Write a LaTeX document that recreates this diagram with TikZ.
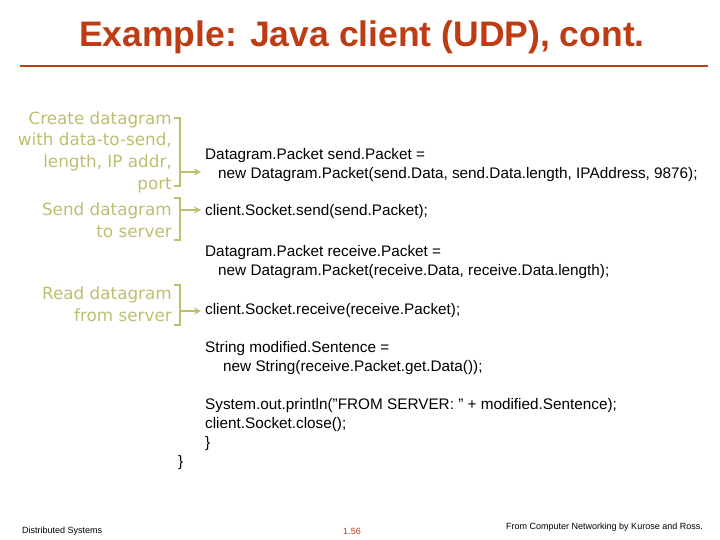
\documentclass[tikz,border=0pt]{standalone}
\usepackage{fontspec}
\setmainfont{Liberation Sans}
\newfontfamily\annfont{DejaVu Sans}
\usetikzlibrary{arrows.meta}
\definecolor{titlered}{RGB}{190,60,20}
\definecolor{olive}{RGB}{190,190,110}
\begin{document}
\begin{tikzpicture}[x=1pt,y=-1pt,
  code/.style={anchor=west,inner sep=0pt,font=\fontsize{15.3}{19}\selectfont,align=left},
  ann/.style={anchor=east,inner sep=0pt,font=\annfont\fontsize{16.8}{21.7}\selectfont,text=olive,align=right},
  brk/.style={draw=olive,line width=1.3pt},
  arr/.style={draw=olive,line width=1.3pt,-{Stealth[length=7pt,width=7pt]},shorten >=4pt},
  foot/.style={inner sep=0pt,font=\fontsize{9}{10}\selectfont}]
\useasboundingbox (0,0) rectangle (720,540);
\node[font=\bfseries\fontsize{35.5}{40}\selectfont,text=titlered] (title) at (362,37) {Example: Java client (UDP), cont.};
\draw[titlered,line width=2.8pt] (20,66) -- (708,66);
% annotations
\node[ann] (a1) at (172,152) {Create datagram\\with data-to-send,\\length, IP addr,\\port};
\node[ann] (a2) at (172,220) {Send datagram\\to server};
\node[ann] (a3) at (172,304) {Read datagram\\from server};
\draw[brk] (174,118) -- (180,118) -- (180,186) -- (174,186);
\draw[brk] (174,198) -- (180,198) -- (180,240) -- (174,240);
\draw[brk] (174,285) -- (180,285) -- (180,325) -- (174,325);
% code
\node[code] (c1) at (205,165) {Datagram.Packet send.Packet =\\\hspace*{13pt}new Datagram.Packet(send.Data, send.Data.length, IPAddress, 9876);};
\node[code] (c2) at (205,212) {client.Socket.send(send.Packet);};
\node[code] (c3) at (205,262) {Datagram.Packet receive.Packet =\\\hspace*{13pt}new Datagram.Packet(receive.Data, receive.Data.length);};
\node[code] (c4) at (205,311) {client.Socket.receive(receive.Packet);};
\node[code] (c5) at (205,358) {String modified.Sentence =\\\hspace*{18pt}new String(receive.Packet.get.Data());};
\node[code] (c6) at (205,425) {System.out.println("FROM SERVER: " + modified.Sentence);\\client.Socket.close();\\\}};
\node[code] (c7) at (178,463) {\}};
\coordinate (b1) at (180,172);
\coordinate (b2) at (180,210);
\coordinate (b3) at (180,311);
\draw[arr] (b1) -- (c1.west |- b1);
\draw[arr] (b2) -- (c2.west |- b2);
\draw[arr] (b3) -- (c4.west |- b3);
% footer
\node[foot,anchor=west] (f1) at (22,531) {Distributed Systems};
\node[foot,text=titlered] (f2) at (352,531) {1.56};
\node[foot,anchor=east] (f3) at (703,527) {From Computer Networking by Kurose and Ross.};
\end{tikzpicture}
\end{document}
